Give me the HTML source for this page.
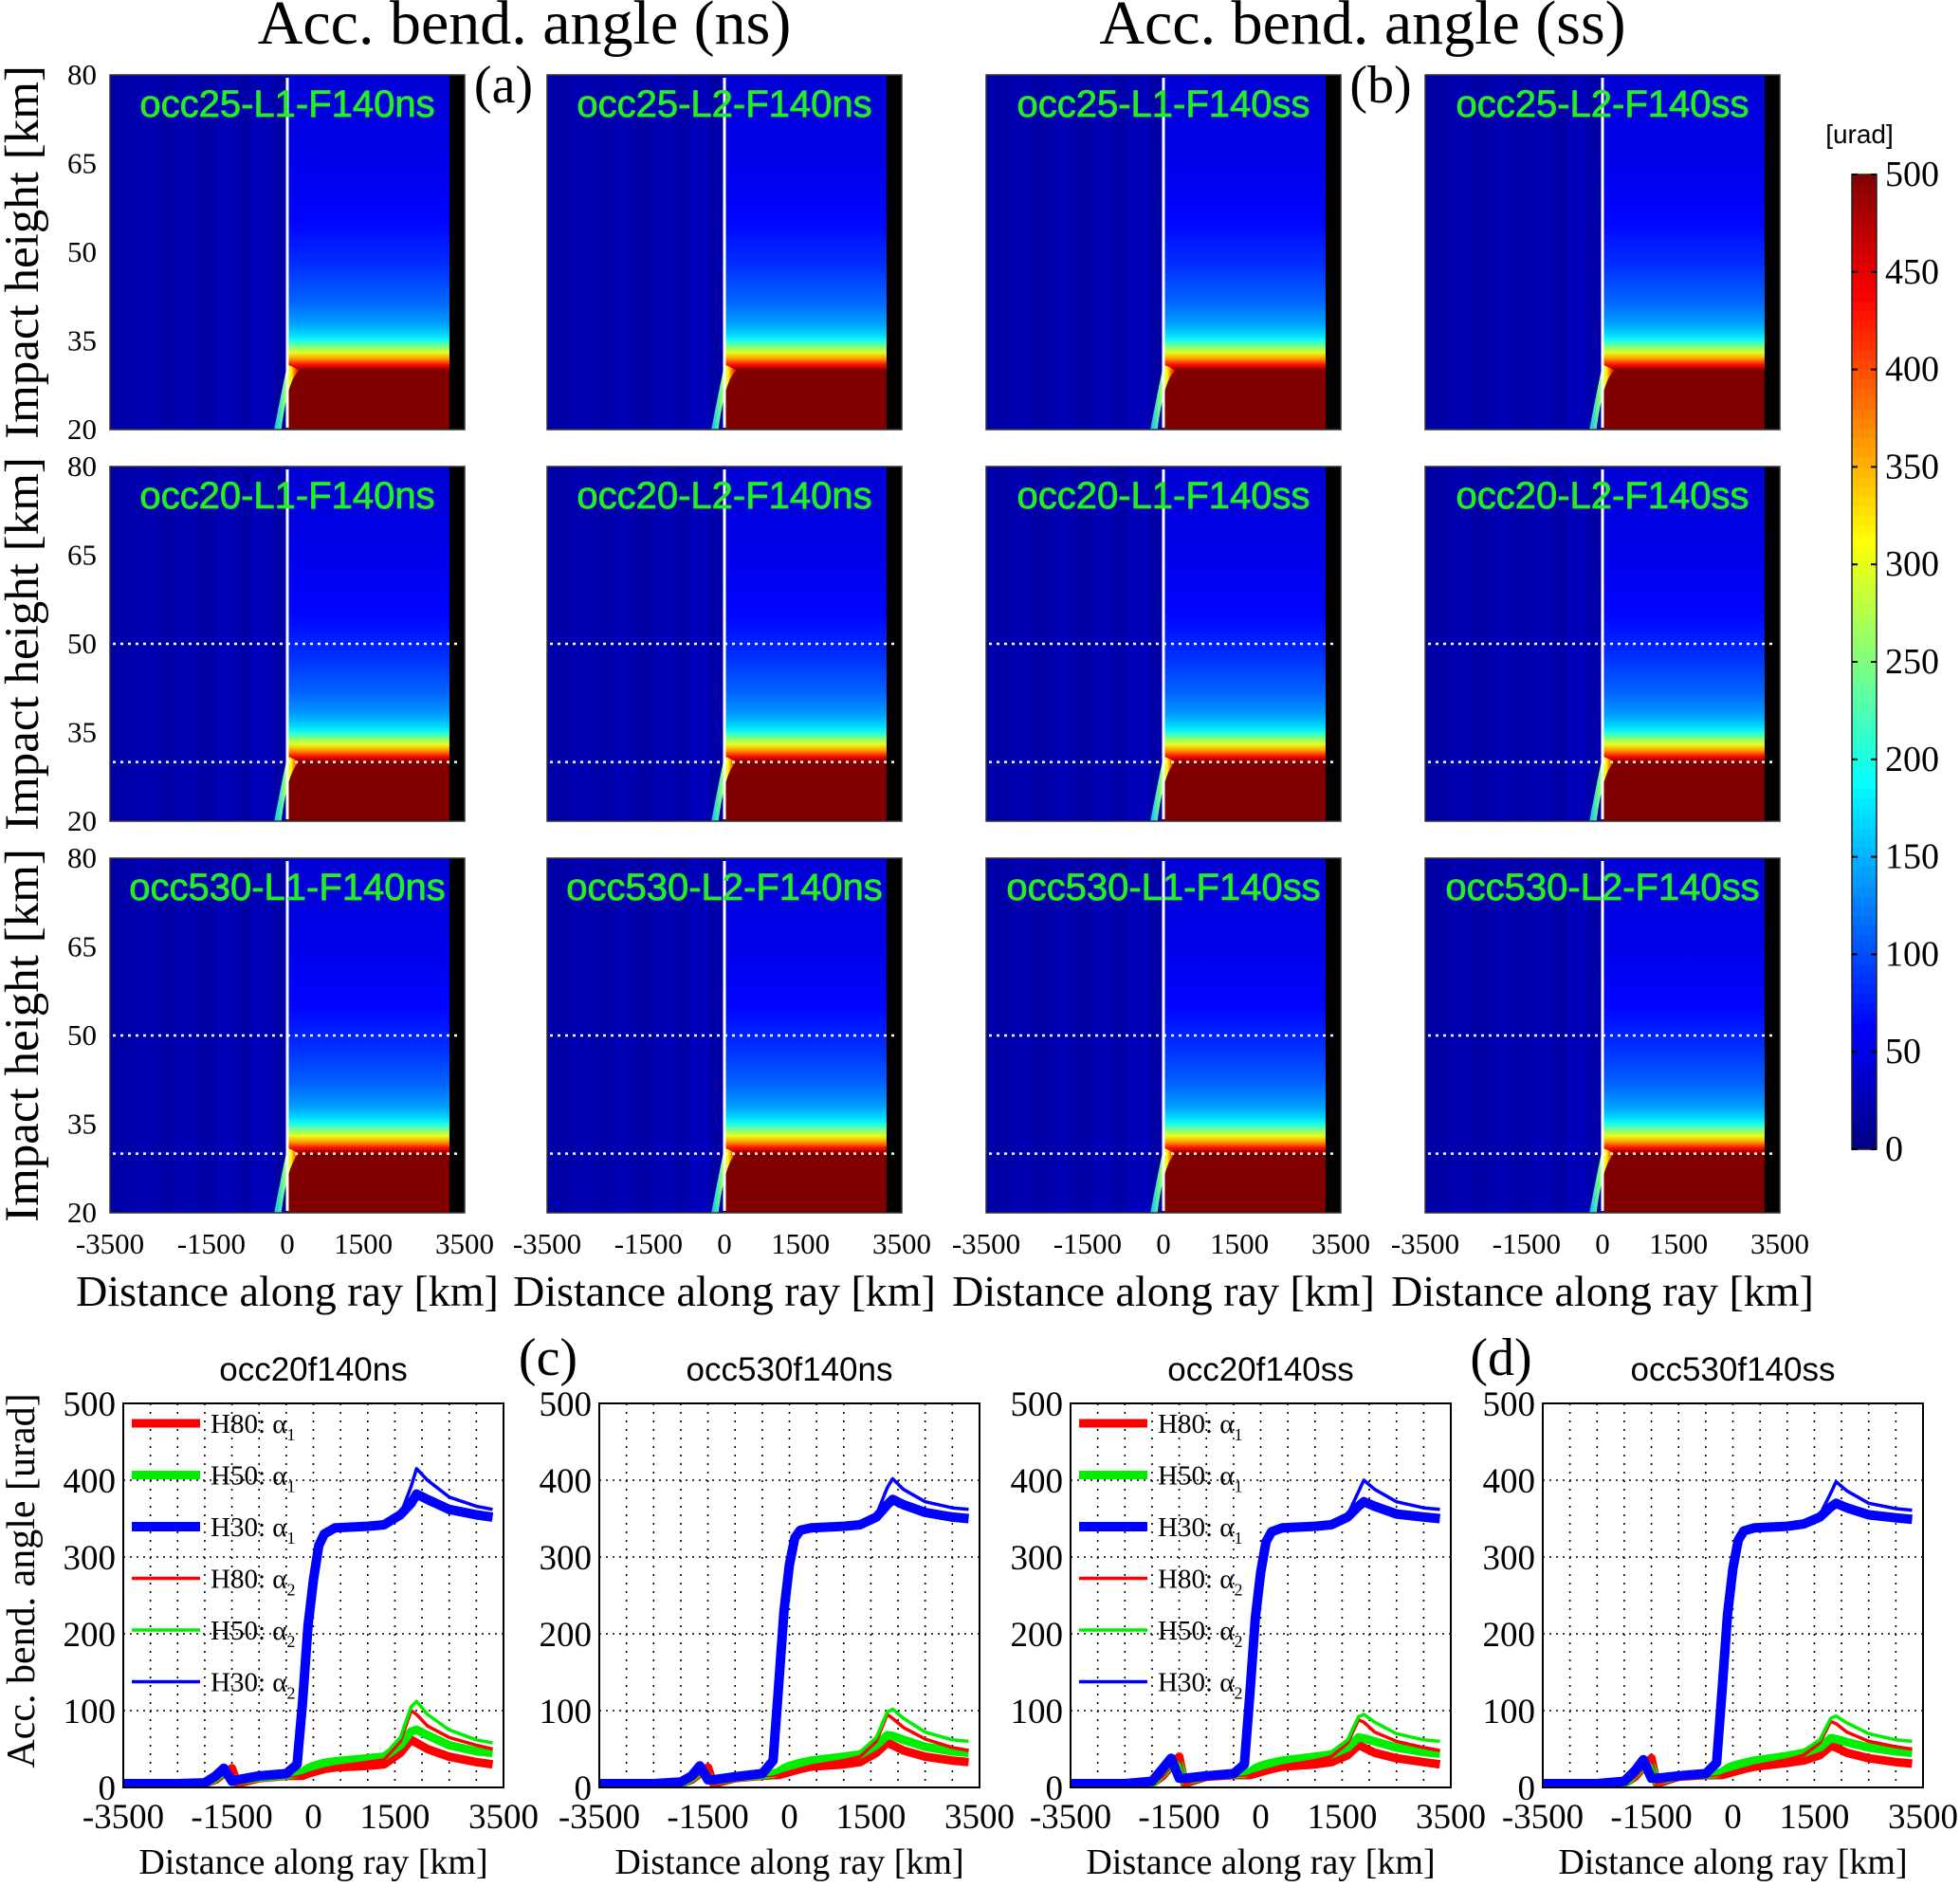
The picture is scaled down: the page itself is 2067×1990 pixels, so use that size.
<!DOCTYPE html>
<html><head><meta charset="utf-8">
<style>
html,body{margin:0;padding:0;background:#fff;}
svg{display:block;}
.serif{font-family:"Liberation Serif",serif;}
.sans{font-family:"Liberation Sans",sans-serif;}
</style></head>
<body>
<svg id="fig" width="2067" height="1990" viewBox="0 0 2067 1990" xmlns="http://www.w3.org/2000/svg">
<defs>
<linearGradient id="wedge" x1="0" y1="0" x2="1" y2="0">
<stop offset="0" stop-color="#00c0ff"/><stop offset="0.4" stop-color="#80ff80"/><stop offset="0.65" stop-color="#ffff00"/><stop offset="0.85" stop-color="#ff4000"/><stop offset="1" stop-color="#a00000"/>
</linearGradient>
</defs>
</svg>
<script>
// ---------- heatmap data ----------
const hmPanelNames = [["occ25-L1-F140ns","occ25-L2-F140ns","occ25-L1-F140ss","occ25-L2-F140ss"],
 ["occ20-L1-F140ns","occ20-L2-F140ns","occ20-L1-F140ss","occ20-L2-F140ss"],
 ["occ530-L1-F140ns","occ530-L2-F140ns","occ530-L1-F140ss","occ530-L2-F140ss"]];
const hmYTicks = [80,65,50,35,20];
const hmXTicks = [-3500,-1500,0,1500,3500];
const profileH = [80,65,55,48,42,38,36,35,34,33,32,31,30,20];
const profileV = [42,52,65,85,110,140,170,200,250,300,360,430,500,500];
const bgValue = 20;
const cbTicks = [0,50,100,150,200,250,300,350,400,450,500];
// ---------- line chart data ----------
const lnTitles = ["occ20f140ns","occ530f140ns","occ20f140ss","occ530f140ss"];
const lnXTicks = [-3500,-1500,0,1500,3500];
const lnYTicks = [0,100,200,300,400,500];
const xKm = [-3500,-2500,-2000,-1800,-1650,-1500,-1400,-1000,-500,-300,-200,-100,0,100,200,400,1000,1300,1600,1800,1900,2100,2500,3000,3300];
const p1H30a1 = [5,5,6,15,25,8,10,15,18,30,110,210,270,315,330,338,340,342,355,370,382,375,362,355,352];
const p1H30a2 = [5,5,6,15,25,8,10,15,18,30,110,210,270,315,330,338,340,342,355,392,415,400,378,366,362];
const p1H80a1 = [5,5,5,10,18,25,5,12,15,15,15,18,20,22,24,26,28,30,45,62,58,50,40,33,30];
const p1H80a2 = [5,5,5,10,18,25,5,12,15,15,15,18,20,22,24,27,33,36,60,100,95,80,65,55,50];
const p1H50a1 = [5,5,5,12,20,15,8,13,16,18,20,25,28,30,32,34,38,40,55,73,75,68,55,47,45];
const p1H50a2 = [5,5,5,12,20,15,8,13,16,18,20,25,28,30,32,35,40,42,65,105,112,95,75,62,58];
const p2H30a1 = [5,5,7,15,28,10,10,14,18,35,130,230,290,325,335,338,340,342,352,368,375,368,358,352,350];
const p2H30a2 = [5,5,7,15,28,10,10,14,18,35,130,230,290,325,335,338,340,342,355,390,402,388,372,364,362];
const p2H80a1 = [5,5,5,10,18,26,5,12,15,16,16,18,20,22,24,27,30,33,45,58,55,48,40,35,33];
const p2H80a2 = [5,5,5,10,18,26,5,12,15,16,16,18,20,22,24,28,35,40,60,95,90,78,63,52,48];
const p2H50a1 = [5,5,5,12,20,16,8,13,16,18,20,25,28,30,32,35,40,43,55,68,67,62,53,47,45];
const p2H50a2 = [5,5,5,12,20,16,8,13,16,18,20,25,28,30,32,36,42,46,65,98,102,90,72,62,60];
const p3H30a1 = [5,5,8,25,38,12,12,15,18,30,120,220,280,320,333,338,340,342,352,366,372,366,356,352,350];
const p3H30a2 = [5,5,8,25,38,12,12,15,18,30,120,220,280,320,333,338,340,342,355,385,400,388,372,364,362];
const p3H80a1 = [5,5,5,15,28,40,5,14,16,16,16,18,20,22,24,27,30,33,42,55,52,45,38,33,30];
const p3H80a2 = [5,5,5,15,28,40,5,14,16,16,16,18,20,22,24,28,35,40,58,88,85,72,60,52,48];
const p3H50a1 = [5,5,5,18,30,30,8,15,17,18,20,25,28,30,32,35,40,43,52,65,64,60,52,46,44];
const p3H50a2 = [5,5,5,18,30,30,8,15,17,18,20,25,28,30,32,36,42,46,62,92,95,85,70,62,60];
const p4H30a1 = [5,5,8,22,36,12,12,15,18,32,125,225,285,322,334,338,340,343,352,365,370,364,355,351,349];
const p4H30a2 = [5,5,8,22,36,12,12,15,18,32,125,225,285,322,334,338,340,343,355,383,398,386,370,363,361];
const p4H80a1 = [5,5,5,14,26,38,5,14,16,16,16,18,20,22,24,27,32,35,42,54,52,45,38,33,31];
const p4H80a2 = [5,5,5,14,26,38,5,14,16,16,16,18,20,22,24,28,36,42,58,86,83,72,60,53,50];
const p4H50a1 = [5,5,5,17,28,28,8,15,17,18,20,25,28,30,32,35,41,45,52,64,63,59,52,47,45];
const p4H50a2 = [5,5,5,17,28,28,8,15,17,18,20,25,28,30,32,36,43,48,62,90,93,84,70,62,60];
const lnSeries = [
 [p1H80a1,p1H50a1,p1H80a2,p1H50a2,p1H30a1,p1H30a2],
 [p2H80a1,p2H50a1,p2H80a2,p2H50a2,p2H30a1,p2H30a2],
 [p3H80a1,p3H50a1,p3H80a2,p3H50a2,p3H30a1,p3H30a2],
 [p4H80a1,p4H50a1,p4H80a2,p4H50a2,p4H30a1,p4H30a2]];
const seriesLabels = ["H80","H50","H80","H50","H30","H30"];
const seriesSub = ["1","1","2","2","1","2"];
const legendOrder = [0,1,4,2,3,5];

const NS="http://www.w3.org/2000/svg";
const svg=document.getElementById('fig');
function mk(tag,attrs,parent){const e=document.createElementNS(NS,tag);for(const k in attrs)e.setAttribute(k,attrs[k]);(parent||svg).appendChild(e);return e;}
function txt(s,attrs,parent){const e=mk('text',attrs,parent);e.textContent=s;return e;}
function jet(v){let t=Math.max(0,Math.min(1,v/500));const c=x=>Math.round(255*Math.max(0,Math.min(1,1.5-Math.abs(4*t-x))));return `rgb(${c(3)},${c(2)},${c(1)})`;}

// titles
let e;
e=txt("Acc. bend. angle (ns)",{x:553,y:46,'text-anchor':'middle','font-size':66,class:'serif'});

e=txt("Acc. bend. angle (ss)",{x:1437,y:46,'text-anchor':'middle','font-size':66,class:'serif'});

[["(a)",531,108],["(b)",1456,108],["(c)",578,1450],["(d)",1583,1450]].forEach(p=>{
 const t=txt(p[0],{x:p[1],y:p[2],'text-anchor':'middle','font-size':56,class:'serif'});
 
 
});

// ---------- heatmaps ----------
const HL=[116,577,1040,1503], HT=[79,492,905], HW=374, HH=374;
hmPanelNames.forEach((row,ri)=>{
 row.forEach((name,ci)=>{
  const L=HL[ci],T=HT[ri];
  const sx=v=>L+(v+3500)/7000*HW;
  const sy=h=>T+(80-h)/60*HH;
  const g=mk('g',{});
  
  
  mk('rect',{x:L,y:T,width:HW,height:HH,fill:jet(bgValue)},g);
  [-3000,-2200,-1400,-700].forEach((xv,i)=>{mk('rect',{x:sx(xv),y:T,width:HW*400/7000,height:HH,fill:jet(bgValue+6+i*3),opacity:0.6},g);});
  const gid='prof'+ri+ci;
  const lg=mk('linearGradient',{id:gid,x1:0,y1:0,x2:0,y2:1,gradientUnits:'userSpaceOnUse'},svg.querySelector('defs'));
  lg.setAttribute('y1',T);lg.setAttribute('y2',T+HH);
  profileH.forEach((h,k)=>{mk('stop',{offset:((80-h)/60).toFixed(4),'stop-color':jet(profileV[k])},lg);});
  mk('rect',{x:sx(0),y:T,width:sx(3200)-sx(0),height:HH,fill:`url(#${gid})`},g);
  mk('path',{d:`M${sx(-260)},${sy(20)} L${sx(-120)},${sy(20)} Q${sx(20)},${sy(29)} ${sx(250)},${sy(30)} L${sx(0)},${sy(31)} Q${sx(-100)},${sy(27)} ${sx(-260)},${sy(20)} Z`,fill:'url(#wedge)'},g);
  mk('rect',{x:sx(3200),y:T,width:sx(3500)-sx(3200),height:HH,fill:'#000'},g);
  const wl=mk('line',{x1:sx(0),x2:sx(0),y1:T+3,y2:sy(20)-2,stroke:'#fff','stroke-width':3},g);
  
  
  if(ri>0){[50,30].forEach(h=>{
   const d=mk('line',{x1:L+3,x2:sx(3350),y1:sy(h),y2:sy(h),stroke:'#fff','stroke-width':2.5,'stroke-dasharray':'3 5'},g);
   
   
  });}
  mk('rect',{x:L,y:T,width:HW,height:HH,fill:'none',stroke:'#333','stroke-width':1.5},g);
  const lab=txt(name,{x:L+HW/2,y:T+44,'text-anchor':'middle','font-size':40,fill:'#22ee22',stroke:'#22ee22','stroke-width':0.8,class:'sans'},g);
  
  
  if(ci===0){
   hmYTicks.forEach(h=>{const t=txt(String(h),{x:102,y:sy(h)+10,'text-anchor':'end','font-size':31,class:'serif'},g);
    
    });
  }
  if(ri===2){
   hmXTicks.forEach(v=>{const t=txt(String(v),{x:sx(v),y:1322,'text-anchor':'middle','font-size':31,class:'serif'},g);
    
    });
   const xl=txt("Distance along ray [km]",{x:L+HW/2,y:1377,'text-anchor':'middle','font-size':46,class:'serif'},g);
   
   
  }
 });
 const yt=txt("Impact height [km]",{x:0,y:0,'text-anchor':'middle','font-size':51,class:'serif',transform:`translate(40,${HT[ri]+HH/2}) rotate(-90)`});
 
 
});

// ---------- colorbar ----------
(function(){
 const X=1953,W=26,Y0=1212,Y1=184;
 const sy=v=>Y0-(v/500)*(Y0-Y1);
 const g=mk('g',{});
 
 
 for(let v=0;v<500;v+=5){mk('rect',{x:X,y:sy(v+5),width:W,height:sy(v)-sy(v+5)+0.6,fill:jet(v+2.5)},g);}
 mk('rect',{x:X,y:Y1,width:W,height:Y0-Y1,fill:'none',stroke:'#222','stroke-width':1.5},g);
 cbTicks.forEach(v=>{
  mk('line',{x1:X,x2:X+6,y1:sy(v),y2:sy(v),stroke:'#000','stroke-width':2},g);
  mk('line',{x1:X+W-6,x2:X+W,y1:sy(v),y2:sy(v),stroke:'#000','stroke-width':2},g);
  const t=txt(String(v),{x:1988,y:sy(v)+12,'font-size':38,class:'serif'},g);
  
  
 });
 const u=txt("[urad]",{x:1961,y:151,'text-anchor':'middle','font-size':28,class:'sans'},g);
 
 
})();

// ---------- line charts ----------
const LL=[130,632,1129,1627], LT=1480, LW=401, LH=405;
const colors=['#ff0000','#00ee00','#ff0000','#00ee00','#0000ff','#0000ff'];
const widths=[9,9,3.5,3.5,10,3.5];
lnTitles.forEach((title,pi)=>{
 const L=LL[pi];
 const sx=v=>L+(v+3500)/7000*LW;
 const sy=v=>LT+LH-v/500*LH;
 const g=mk('g',{});
 
 
 for(let v=-3000;v<3500;v+=500){mk('line',{x1:sx(v),x2:sx(v),y1:LT,y2:LT+LH,stroke:'#000','stroke-width':1.6,'stroke-dasharray':'2 7'},g);}
 lnYTicks.forEach(v=>{if(v>0&&v<500)mk('line',{x1:L,x2:L+LW,y1:sy(v),y2:sy(v),stroke:'#000','stroke-width':1.6,'stroke-dasharray':'2 5'},g);});
 lnSeries[pi].forEach((arr,si)=>{
  const d=arr.map((v,k)=>(k?'L':'M')+sx(xKm[k]).toFixed(1)+','+sy(v).toFixed(1)).join(' ');
  const p=mk('path',{d:d,fill:'none',stroke:colors[si],'stroke-width':widths[si],'stroke-linejoin':'round'},g);
  
  
 });
 mk('rect',{x:L,y:LT,width:LW,height:LH,fill:'none',stroke:'#000','stroke-width':2},g);
 lnYTicks.forEach(v=>{const t=txt(String(v),{x:L-8,y:sy(v)+13,'text-anchor':'end','font-size':37,class:'serif'},g);
  
  });
 lnXTicks.forEach(v=>{const t=txt(String(v),{x:sx(v),y:1928,'text-anchor':'middle','font-size':37,class:'serif'},g);
  
  });
 const tt=txt(title,{x:L+LW/2,y:1456,'text-anchor':'middle','font-size':35,class:'sans'},g);
 
 
 const xl=txt("Distance along ray [km]",{x:L+LW/2,y:1976,'text-anchor':'middle','font-size':38,class:'serif'},g);
 
 
 if(pi===0||pi===2){
  const lg=mk('g',{},g);
  
  
  legendOrder.forEach((si,k)=>{
   const y=1501+k*54.5;
   const ent=mk('g',{},lg);
   
   
   mk('line',{x1:L+9,x2:L+81,y1:y,y2:y,stroke:colors[si],'stroke-width':widths[si]},ent);
   const t=txt(seriesLabels[si]+": α",{x:L+92,y:y+10,'font-size':29,class:'serif'},ent);
   const s=mk('tspan',{dy:8,'font-size':18},t);s.textContent=seriesSub[si];
  });
 }
});
e=txt("Acc. bend. angle [urad]",{x:0,y:0,'text-anchor':'middle','font-size':42,class:'serif',transform:'translate(36,1667) rotate(-90)'});


</script>
</body></html>
